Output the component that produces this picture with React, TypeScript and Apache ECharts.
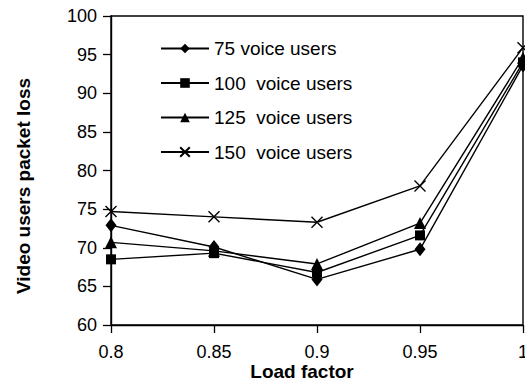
import React, { useEffect, useRef } from "react";
import * as echarts from "echarts";

const loadFactors = [0.8, 0.85, 0.9, 0.95, 1];
const users75 = [72.9, 70.1, 65.9, 69.8, 93.6];
const users100 = [68.5, 69.3, 66.8, 71.6, 94.0];
const users125 = [70.7, 69.6, 67.9, 73.2, 94.6];
const users150 = [74.7, 74.0, 73.3, 78.0, 95.9];
const seriesNames = ["75 voice users", "100  voice users", "125  voice users", "150  voice users"];
const xTitle = "Load factor";
const yTitle = "Video users packet loss";

const FONT = "'Liberation Sans', Arial, sans-serif";

export default function App() {
  const ref = useRef<HTMLDivElement>(null);
  useEffect(() => {
    if (!ref.current) return;
    const chart = echarts.init(ref.current, undefined, { renderer: "svg" });
    const pts = (vals: number[]) => loadFactors.map((x, i) => [x, vals[i]]);
    const mk = (name: string, vals: number[], symbol: string, size: any, extra: any = {}) => ({
      name,
      type: "line",
      data: pts(vals),
      symbol,
      symbolSize: size,
      lineStyle: { color: "#000", width: 1.4 },
      itemStyle: { color: "#000", borderColor: "#000", borderWidth: 0, ...extra },
      emphasis: { disabled: true },
      z: 3,
    });
    chart.setOption({
      animation: false,
      grid: {
        left: 111,
        right: 2,
        top: 16,
        bottom: 60,
        containLabel: false,
        outerBoundsMode: "none",
        show: true,
        borderColor: "#000",
        borderWidth: 1.4,
        backgroundColor: "transparent",
      },
      legend: {
        orient: "vertical",
        left: 160,
        top: 39,
        padding: 0,
        itemWidth: 48,
        itemHeight: 12,
        itemGap: 15.5,
        textStyle: { fontFamily: FONT, fontSize: 19, color: "#000" },
        data: seriesNames,
      },
      xAxis: {
        type: "value",
        min: 0.8,
        max: 1,
        interval: 0.05,
        axisLine: { lineStyle: { color: "#000", width: 1.4 } },
        axisTick: { show: true, inside: false, length: 8, lineStyle: { color: "#000", width: 1.3 } },
        splitLine: { show: false },
        axisLabel: {
          margin: 18,
          fontFamily: FONT,
          fontSize: 18,
          color: "#000",
          showMaxLabel: true,
          hideOverlap: false,
          formatter: (v: number) => String(+v.toFixed(2)),
        },
      },
      yAxis: {
        type: "value",
        min: 60,
        max: 100,
        interval: 5,
        axisLine: { show: true, lineStyle: { color: "#000", width: 1.4 } },
        axisTick: { show: true, inside: false, length: 8, lineStyle: { color: "#000", width: 1.3 } },
        splitLine: { show: false },
        axisLabel: { margin: 14, fontFamily: FONT, fontSize: 18, color: "#000" },
      },
      graphic: [
        {
          type: "text",
          x: 302,
          y: 371,
          style: { text: xTitle, fontFamily: FONT, fontSize: 19, fontWeight: "bold", fill: "#000", align: "center", verticalAlign: "middle" },
        },
        {
          type: "text",
          x: 23,
          y: 186,
          rotation: Math.PI / 2,
          style: { text: yTitle, fontFamily: FONT, fontSize: 19, fontWeight: "bold", fill: "#000", align: "center", verticalAlign: "middle" },
        },
      ],
      series: [
        mk(seriesNames[0], users75, "diamond", [11, 14]),
        mk(seriesNames[1], users100, "rect", 10),
        mk(seriesNames[2], users125, "triangle", 12),
        mk(seriesNames[3], users150, "path://M0 0L10 10M10 0L0 10", 11, { color: "none", borderWidth: 1.4 }),
      ],
    });
    return () => chart.dispose();
  }, []);
  return <div ref={ref} style={{ position: "fixed", left: 0, top: 0, width: 525, height: 385, background: "#fff" }} />;
}
